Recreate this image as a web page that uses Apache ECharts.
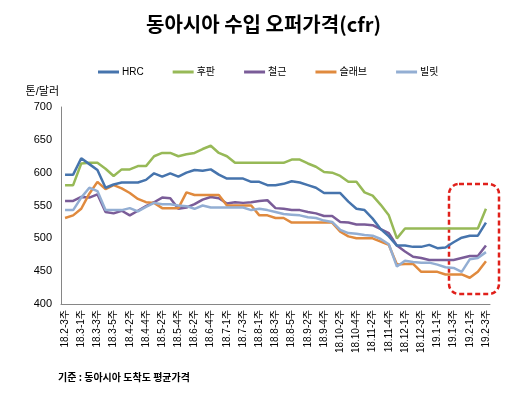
<!DOCTYPE html>
<html>
<head>
<meta charset="utf-8">
<script src="https://cdn.jsdelivr.net/npm/echarts@6/dist/echarts.min.js"></script>
<style>
  html, body {margin: 0; padding: 0; background: #fff;}
  #main {width: 527px; height: 396px;}
</style>
</head>
<body>
<div id="main"></div>
<script>
// 주차 (2주마다 라벨이 보임)
var weeks = ['18.2-3주', '18.2-4주', '18.3-1주', '18.3-2주', '18.3-3주', '18.3-4주', '18.3-5주',
    '18.4-1주', '18.4-2주', '18.4-3주', '18.4-4주', '18.5-1주', '18.5-2주', '18.5-3주', '18.5-4주',
    '18.6-1주', '18.6-2주', '18.6-3주', '18.6-4주', '18.6-5주', '18.7-1주', '18.7-2주', '18.7-3주', '18.7-4주',
    '18.8-1주', '18.8-2주', '18.8-3주', '18.8-4주', '18.8-5주', '18.9-1주', '18.9-2주', '18.9-3주', '18.9-4주',
    '18.10-1주', '18.10-2주', '18.10-3주', '18.10-4주', '18.11-1주', '18.11-2주', '18.11-3주', '18.11-4주', '18.11-5주',
    '18.12-1주', '18.12-2주', '18.12-3주', '18.12-4주', '19.1-1주', '19.1-2주', '19.1-3주', '19.1-4주',
    '19.2-1주', '19.2-2주', '19.2-3주'];

var hrc = [597, 597, 622, 613, 604, 577, 582, 585, 585, 585, 589, 599, 594, 599, 594, 600, 604, 603, 605, 597,
    591, 591, 591, 586, 586, 581, 581, 583, 587, 585, 581, 577, 569, 569, 569, 556, 545, 543, 530, 514,
    503, 489, 489, 487, 487, 490, 485, 486, 494, 501, 504, 504, 524];
var plate = [581, 581, 614, 615, 615, 606, 595, 605, 605, 610, 610, 625, 630, 630, 625, 628, 630, 636, 641, 630,
    625, 615, 615, 615, 615, 615, 615, 615, 620, 620, 614, 609, 601, 600, 595, 586, 586, 570, 565, 551,
    535, 500, 515, 515, 515, 515, 515, 515, 515, 515, 515, 515, 545];
var rebar = [557, 557, 563, 562, 567, 540, 538, 542, 535, 542, 549, 555, 562, 561, 545, 547, 552, 559, 563, 561,
    553, 555, 554, 555, 557, 558, 546, 545, 543, 543, 540, 538, 534, 534, 525, 524, 521, 521, 520, 514,
    508, 489, 480, 472, 470, 467, 467, 467, 467, 470, 473, 473, 489];
var slab = [531, 535, 545, 568, 586, 575, 581, 576, 569, 560, 555, 554, 546, 546, 546, 570, 566, 566, 566, 566,
    550, 550, 550, 550, 535, 535, 531, 531, 524, 524, 524, 524, 524, 524, 510, 503, 500, 500, 500, 495,
    490, 460, 461, 461, 449, 449, 449, 445, 445, 445, 440, 449, 465];
var billet = [543, 543, 562, 577, 572, 543, 543, 543, 546, 541, 548, 554, 552, 552, 550, 549, 545, 550, 547, 547,
    547, 547, 547, 543, 545, 543, 540, 537, 536, 535, 532, 531, 527, 525, 513, 508, 507, 505, 504, 499,
    491, 457, 466, 464, 463, 463, 460, 456, 455, 449, 468, 470, 479];

var seriesNames = ['HRC', '후판', '철근', '슬래브', '빌릿'];
var seriesData = [hrc, plate, rebar, slab, billet];
var colors = ['#4674AD', '#97B957', '#7A5C98', '#E08A3E', '#93AED3'];

var font = "'Liberation Sans', 'Noto Sans CJK KR', sans-serif";

var mychart = echarts.init(document.getElementById('main'));
var option = {
    color: colors,
    animation: false,
    title: {
        text: '동아시아 수입 오퍼가격(cfr)',
        left: 'center',
        top: 9,
        textStyle: {fontSize: 20, fontWeight: 'bold', color: '#000', fontFamily: "'Noto Sans CJK KR', sans-serif"}
    },
    legend: {
        data: seriesNames,
        left: 98,
        top: 67,
        padding: 0,
        itemGap: 29,
        itemWidth: 21,
        itemHeight: 3,
        icon: 'rect',
        textStyle: {fontSize: 10, color: '#000', fontFamily: font, padding: [0, 0, 0, -2]}
    },
    grid: {left: 61, right: 37, top: 107, bottom: 92},
    xAxis: {
        type: 'category',
        data: weeks,
        boundaryGap: true,
        axisLine: {lineStyle: {color: '#868686', width: 1}},
        axisTick: {show: false},
        axisLabel: {
            interval: 1,
            rotate: 90,
            margin: 6,
            fontSize: 10,
            color: '#000',
            fontFamily: font
        }
    },
    yAxis: {
        type: 'value',
        min: 400,
        max: 700,
        interval: 50,
        name: '톤/달러',
        nameLocation: 'end',
        nameGap: 10,
        nameTextStyle: {fontSize: 11, color: '#000', fontFamily: font, align: 'right', padding: [0, 2, 0, 0]},
        splitLine: {show: false},
        axisLine: {show: true, lineStyle: {color: '#868686', width: 1}},
        axisTick: {show: false},
        axisLabel: {fontSize: 11, color: '#000', fontFamily: font, margin: 9}
    },
    series: seriesNames.map(function (name, k) {
        return {
            name: name,
            type: 'line',
            data: seriesData[k],
            symbol: 'none',
            lineStyle: {width: 2.5},
            z: k === 0 ? 3 : 2
        };
    }),
    graphic: [
        {
            type: 'rect',
            shape: {x: 449, y: 184, width: 50, height: 110, r: 10},
            style: {fill: 'none', stroke: '#E0201B', lineWidth: 2.5, lineDash: [5, 3]}
        },
        {
            type: 'text',
            left: 58,
            top: 372,
            style: {text: '기준 : 동아시아 도착도 평균가격', fill: '#000', font: "bold 10px 'Noto Sans CJK KR', sans-serif"}
        }
    ]
};
mychart.setOption(option);
</script>
</body>
</html>
